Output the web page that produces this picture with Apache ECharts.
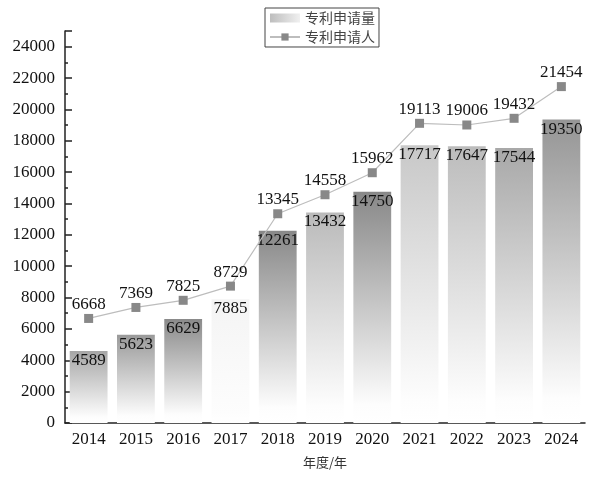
<!DOCTYPE html>
<html>
<head>
<meta charset="utf-8">
<script src="https://cdn.jsdelivr.net/npm/echarts@6/dist/echarts.min.js"></script>
<style>
html,body{margin:0;padding:0;background:#fff;}
#chart{width:591px;height:477px;}
</style>
</head>
<body>
<div id="chart"></div>
<script>
var years = ['2014','2015','2016','2017','2018','2019','2020','2021','2022','2023','2024'];
var applications = [4589, 5623, 6629, 7885, 12261, 13432, 14750, 17717, 17647, 17544, 19350];
var applicants = [6668, 7369, 7825, 8729, 13345, 14558, 15962, 19113, 19006, 19432, 21454];
var seriesNames = ['专利申请量', '专利申请人'];
var axisName = '年度/年';
// style: top colour of each bar's gradient
var barTopColors = ['#a6a6a6','#9a9a9a','#8a8a8a','#f4f4f4','#888888','#bababa','#888888','#c8c8c8','#bcbcbc','#a8a8a8','#959595'];

function grad(top){
  return new echarts.graphic.LinearGradient(0,0,0,1,[{offset:0,color:top},{offset:0.92,color:'#fdfdfd'},{offset:1,color:'#ffffff'}]);
}
var serif = '"Liberation Serif", "DejaVu Serif", serif';
var chart = echarts.init(document.getElementById('chart'));
chart.setOption({
  animation:false,
  backgroundColor:'#fff',
  legend:{
    orient:'vertical', left:265, top:8,
    itemWidth:30, itemHeight:9, itemGap:5,
    padding:[3,4,3,4],
    borderColor:'#444', borderWidth:1,
    textStyle:{fontSize:14, color:'#444', fontFamily:'"Noto Sans CJK SC", sans-serif'},
    data:[
      {name:seriesNames[0], icon:'rect', itemStyle:{color:new echarts.graphic.LinearGradient(0,0,1,0,[{offset:0,color:'#bdbdbd'},{offset:1,color:'#f0f0f0'}])}},
      {name:seriesNames[1]}
    ]
  },
  grid:{left:65, right:6, top:31, bottom:54, containLabel:false},
  xAxis:[{
    type:'category', data:years, position:'bottom',
    axisLine:{lineStyle:{color:'#222', width:1.5}},
    axisTick:{alignWithLabel:true, inside:true, length:7, lineStyle:{color:'#222', width:1.5}},
    axisLabel:{fontSize:17, color:'#111', fontFamily:serif, margin:8},
    name:axisName, nameLocation:'middle', nameGap:33,
    nameTextStyle:{fontSize:13, color:'#333', fontFamily:'"Noto Sans CJK SC", sans-serif'}
  },{
    type:'category', data:years, position:'bottom',
    axisLine:{show:false},
    axisTick:{inside:true, length:3, lineStyle:{color:'#222', width:1.5}},
    axisLabel:{show:false}
  }],
  yAxis:{
    type:'value', min:0, max:25000, interval:2000,
    axisLine:{show:true, lineStyle:{color:'#222', width:1.5}},
    axisTick:{show:true, inside:true, length:7, lineStyle:{color:'#222', width:1.5}},
    minorTick:{show:true, splitNumber:2, length:3, lineStyle:{color:'#222', width:1.5}},
    splitLine:{show:false},
    axisLabel:{fontSize:17, color:'#111', fontFamily:serif, margin:10, showMaxLabel:false,
      formatter:function(v){return String(v);}}
  },
  series:[{
    name:seriesNames[0], type:'bar', barWidth:'80%',
    itemStyle:{color:'#cccccc'},
    data:applications.map(function(v,i){return {value:v, itemStyle:{color:grad(barTopColors[i])}};}),
    label:{show:true, position:'insideTop', distance:1, fontSize:17, color:'#111', fontFamily:serif}
  },{
    name:seriesNames[1], type:'line', data:applicants,
    symbol:'rect', symbolSize:9,
    lineStyle:{color:'#bdbdbd', width:1.2},
    itemStyle:{color:'#888888'},
    label:{show:true, position:'top', distance:1, fontSize:17, color:'#111', fontFamily:serif},
    z:5
  }]
});
</script>
</body>
</html>
